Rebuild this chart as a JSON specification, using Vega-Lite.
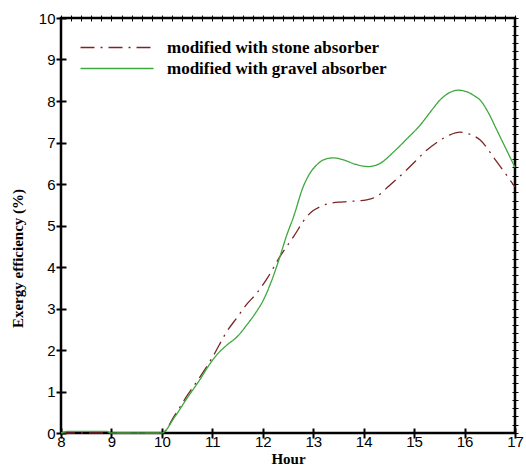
{
  "$schema": "https://vega.github.io/schema/vega-lite/v6.json",
  "width": 454,
  "height": 415,
  "autosize": {"type": "none"},
  "padding": {"left": 61, "top": 18, "right": 11, "bottom": 35},
  "background": "white",
  "config": {
    "view": {"stroke": "black", "strokeWidth": 2.5},
    "axis": {"grid": false}
  },
  "data": {
    "values": [
      {"series": "modified with stone absorber", "hour": 8, "eff": 0},
      {"series": "modified with stone absorber", "hour": 9, "eff": 0},
      {"series": "modified with stone absorber", "hour": 10, "eff": 0},
      {"series": "modified with stone absorber", "hour": 10.25, "eff": 0.42},
      {"series": "modified with stone absorber", "hour": 10.5, "eff": 0.9},
      {"series": "modified with stone absorber", "hour": 10.76, "eff": 1.36},
      {"series": "modified with stone absorber", "hour": 11, "eff": 1.82},
      {"series": "modified with stone absorber", "hour": 11.29, "eff": 2.45},
      {"series": "modified with stone absorber", "hour": 11.5, "eff": 2.8},
      {"series": "modified with stone absorber", "hour": 11.68, "eff": 3.1},
      {"series": "modified with stone absorber", "hour": 11.88, "eff": 3.37},
      {"series": "modified with stone absorber", "hour": 12.1, "eff": 3.75},
      {"series": "modified with stone absorber", "hour": 12.34, "eff": 4.25},
      {"series": "modified with stone absorber", "hour": 12.61, "eff": 4.73},
      {"series": "modified with stone absorber", "hour": 12.87, "eff": 5.21},
      {"series": "modified with stone absorber", "hour": 13.0, "eff": 5.36},
      {"series": "modified with stone absorber", "hour": 13.13, "eff": 5.45},
      {"series": "modified with stone absorber", "hour": 13.35, "eff": 5.54},
      {"series": "modified with stone absorber", "hour": 13.59, "eff": 5.57},
      {"series": "modified with stone absorber", "hour": 14.06, "eff": 5.62},
      {"series": "modified with stone absorber", "hour": 14.26, "eff": 5.7},
      {"series": "modified with stone absorber", "hour": 14.5, "eff": 5.95},
      {"series": "modified with stone absorber", "hour": 14.8, "eff": 6.28},
      {"series": "modified with stone absorber", "hour": 15.05, "eff": 6.58},
      {"series": "modified with stone absorber", "hour": 15.18, "eff": 6.74},
      {"series": "modified with stone absorber", "hour": 15.45, "eff": 7.0},
      {"series": "modified with stone absorber", "hour": 15.7, "eff": 7.18},
      {"series": "modified with stone absorber", "hour": 15.91, "eff": 7.25},
      {"series": "modified with stone absorber", "hour": 16.1, "eff": 7.2},
      {"series": "modified with stone absorber", "hour": 16.31, "eff": 7.06},
      {"series": "modified with stone absorber", "hour": 16.6, "eff": 6.6},
      {"series": "modified with stone absorber", "hour": 16.9, "eff": 6.1},
      {"series": "modified with stone absorber", "hour": 17, "eff": 5.93},
      {"series": "modified with gravel absorber", "hour": 8, "eff": 0},
      {"series": "modified with gravel absorber", "hour": 8.15, "eff": 0.04},
      {"series": "modified with gravel absorber", "hour": 8.9, "eff": 0.04},
      {"series": "modified with gravel absorber", "hour": 9, "eff": 0},
      {"series": "modified with gravel absorber", "hour": 10, "eff": 0},
      {"series": "modified with gravel absorber", "hour": 10.25, "eff": 0.38},
      {"series": "modified with gravel absorber", "hour": 10.5, "eff": 0.84},
      {"series": "modified with gravel absorber", "hour": 10.75, "eff": 1.28},
      {"series": "modified with gravel absorber", "hour": 10.96, "eff": 1.68},
      {"series": "modified with gravel absorber", "hour": 11.1, "eff": 1.9},
      {"series": "modified with gravel absorber", "hour": 11.29, "eff": 2.12},
      {"series": "modified with gravel absorber", "hour": 11.5, "eff": 2.33},
      {"series": "modified with gravel absorber", "hour": 11.68, "eff": 2.6},
      {"series": "modified with gravel absorber", "hour": 11.85, "eff": 2.88},
      {"series": "modified with gravel absorber", "hour": 12.01, "eff": 3.2},
      {"series": "modified with gravel absorber", "hour": 12.2, "eff": 3.75},
      {"series": "modified with gravel absorber", "hour": 12.34, "eff": 4.25},
      {"series": "modified with gravel absorber", "hour": 12.47, "eff": 4.75},
      {"series": "modified with gravel absorber", "hour": 12.61, "eff": 5.21},
      {"series": "modified with gravel absorber", "hour": 12.8, "eff": 5.93},
      {"series": "modified with gravel absorber", "hour": 12.93, "eff": 6.25},
      {"series": "modified with gravel absorber", "hour": 13.07, "eff": 6.46},
      {"series": "modified with gravel absorber", "hour": 13.2, "eff": 6.58},
      {"series": "modified with gravel absorber", "hour": 13.4, "eff": 6.63},
      {"series": "modified with gravel absorber", "hour": 13.6, "eff": 6.58},
      {"series": "modified with gravel absorber", "hour": 13.85, "eff": 6.47},
      {"series": "modified with gravel absorber", "hour": 14.09, "eff": 6.42},
      {"series": "modified with gravel absorber", "hour": 14.33, "eff": 6.5},
      {"series": "modified with gravel absorber", "hour": 14.6, "eff": 6.78},
      {"series": "modified with gravel absorber", "hour": 14.85, "eff": 7.08},
      {"series": "modified with gravel absorber", "hour": 15.12, "eff": 7.42},
      {"series": "modified with gravel absorber", "hour": 15.35, "eff": 7.78},
      {"series": "modified with gravel absorber", "hour": 15.51, "eff": 8.02},
      {"series": "modified with gravel absorber", "hour": 15.7, "eff": 8.2},
      {"series": "modified with gravel absorber", "hour": 15.87, "eff": 8.26},
      {"series": "modified with gravel absorber", "hour": 16.05, "eff": 8.22},
      {"series": "modified with gravel absorber", "hour": 16.2, "eff": 8.12},
      {"series": "modified with gravel absorber", "hour": 16.31, "eff": 8.02},
      {"series": "modified with gravel absorber", "hour": 16.48, "eff": 7.7},
      {"series": "modified with gravel absorber", "hour": 16.64, "eff": 7.3},
      {"series": "modified with gravel absorber", "hour": 16.82, "eff": 6.85},
      {"series": "modified with gravel absorber", "hour": 17, "eff": 6.4}
    ]
  },
  "layer": [
    {
      "mark": {"type": "line", "interpolate": "monotone", "strokeWidth": 1.3},
      "encoding": {
        "x": {
          "field": "hour", "type": "quantitative",
          "scale": {"domain": [8, 17], "nice": false, "zero": false},
          "axis": {
            "values": [8, 9, 10, 11, 12, 13, 14, 15, 16, 17],
            "title": "Hour", "offset": -5, "tickSize": 10, "domain": false,
            "tickColor": "black", "tickWidth": 2,
            "labelFont": "Liberation Sans", "labelFontSize": 15, "labelColor": "black",
            "labelPadding": -4, "labelFlush": false, "labelOverlap": false,
            "format": "d",
            "titleFont": "Liberation Serif", "titleFontSize": 15, "titleFontWeight": "bold",
            "titleColor": "black", "titlePadding": 2
          }
        },
        "y": {
          "field": "eff", "type": "quantitative",
          "scale": {"domain": [0, 10], "nice": false, "zero": false},
          "axis": {
            "values": [0, 1, 2, 3, 4, 5, 6, 7, 8, 9, 10],
            "title": "Exergy efficiency (%)", "offset": -5, "tickSize": 10, "domain": false,
            "tickColor": "black", "tickWidth": 2,
            "labelFont": "Liberation Sans", "labelFontSize": 15, "labelColor": "black",
            "labelPadding": 1, "labelFlush": false, "labelOverlap": false,
            "format": "d",
            "titleFont": "Liberation Serif", "titleFontSize": 15, "titleFontWeight": "bold",
            "titleColor": "black", "titleBaseline": "middle", "titleX": -49, "titleY": 240
          }
        },
        "color": {
          "field": "series", "type": "nominal",
          "scale": {"domain": ["modified with stone absorber", "modified with gravel absorber"], "range": ["#7b2525", "#3ea83e"]},
          "legend": {
            "title": null, "orient": "none", "legendX": 47.5, "legendY": 21, "padding": 0,
            "symbolType": "M-5,0H5", "symbolSize": 213, "symbolStrokeWidth": 1.3,
            "labelFont": "Liberation Serif", "labelFontSize": 17, "labelFontWeight": "bold",
            "labelColor": "black", "labelOffset": 41.5, "rowPadding": 3, "labelLimit": 400
          }
        },
        "strokeDash": {
          "field": "series", "type": "nominal",
          "scale": {"domain": ["modified with stone absorber", "modified with gravel absorber"], "range": [[14, 6, 2, 6], [1, 0]]},
          "legend": {
            "title": null, "orient": "none", "legendX": 47.5, "legendY": 21, "padding": 0,
            "symbolType": "M-5,0H5", "symbolSize": 213, "symbolStrokeWidth": 1.3,
            "labelFont": "Liberation Serif", "labelFontSize": 17, "labelFontWeight": "bold",
            "labelColor": "black", "labelOffset": 41.5, "rowPadding": 3, "labelLimit": 400
          }
        }
      }
    },
    {
      "mark": {"type": "line", "strokeOpacity": 0},
      "encoding": {
        "x": {
          "field": "hour", "type": "quantitative",
          "axis": {
            "values": [8, 8.2, 8.4, 8.6, 8.8, 9, 9.2, 9.4, 9.6, 9.8, 10, 10.2, 10.4, 10.6, 10.8, 11, 11.2, 11.4, 11.6, 11.8, 12, 12.2, 12.4, 12.6, 12.8, 13, 13.2, 13.4, 13.6, 13.8, 14, 14.2, 14.4, 14.6, 14.8, 15, 15.2, 15.4, 15.6, 15.8, 16, 16.2, 16.4, 16.6, 16.8, 17],
            "title": null, "labels": false, "offset": -3, "tickSize": 6, "domain": false,
            "tickColor": "black", "tickWidth": 1
          }
        },
        "y": {
          "field": "eff", "type": "quantitative",
          "axis": {
            "values": [0, 0.2, 0.4, 0.6, 0.8, 1, 1.2, 1.4, 1.6, 1.8, 2, 2.2, 2.4, 2.6, 2.8, 3, 3.2, 3.4, 3.6, 3.8, 4, 4.2, 4.4, 4.6, 4.8, 5, 5.2, 5.4, 5.6, 5.8, 6, 6.2, 6.4, 6.6, 6.8, 7, 7.2, 7.4, 7.6, 7.8, 8, 8.2, 8.4, 8.6, 8.8, 9, 9.2, 9.4, 9.6, 9.8, 10],
            "title": null, "labels": false, "offset": -3, "tickSize": 6, "domain": false,
            "tickColor": "black", "tickWidth": 1
          }
        },
        "detail": {"field": "series", "type": "nominal"}
      }
    }
  ],
  "resolve": {"axis": {"x": "independent", "y": "independent"}}
}
